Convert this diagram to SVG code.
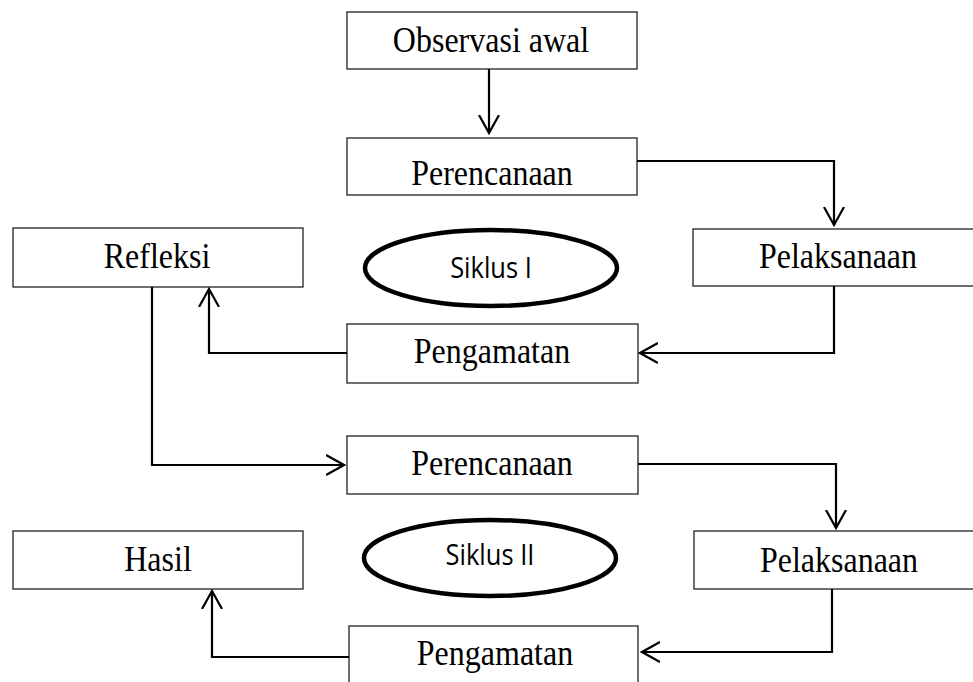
<svg xmlns="http://www.w3.org/2000/svg" width="973" height="682" viewBox="0 0 973 682">
  <style>
    .box { fill: #ffffff; stroke: #222222; stroke-width: 1.3; }
    .lbl { font-family: "Liberation Serif", "Times New Roman", serif; font-size: 32px; fill: #000000; text-anchor: middle; }
    .cyc { fill: #ffffff; stroke: #000000; stroke-width: 4.5; }
    .cyclbl { font-family: "Open Sans", "Noto Sans", sans-serif; font-size: 25.5px; fill: #000000; text-anchor: middle; }
    .conn { fill: none; stroke: #000000; stroke-width: 2.2; marker-end: url(#arrow); }
  </style>
  <defs>
    <marker id="arrow" viewBox="0 0 20 22" refX="18" refY="11" markerWidth="20" markerHeight="22" markerUnits="userSpaceOnUse" orient="auto">
      <path d="M0,1 L18,11 L0,21" fill="none" stroke="#000000" stroke-width="2.2"/>
    </marker>
  </defs>
  <rect width="973" height="682" fill="#ffffff"/>

  <g id="observasi">
    <rect class="box" x="347" y="12" width="290" height="57"/>
    <text class="lbl" transform="translate(491,52) scale(1,1.12)">Observasi awal</text>
  </g>
  <g id="perencanaan1">
    <rect class="box" x="347" y="138" width="290" height="57"/>
    <text class="lbl" transform="translate(492,185) scale(1,1.12)">Perencanaan</text>
  </g>
  <g id="pelaksanaan1">
    <rect class="box" x="693" y="229" width="290" height="57"/>
    <text class="lbl" transform="translate(838,268) scale(1,1.12)">Pelaksanaan</text>
  </g>
  <g id="refleksi">
    <rect class="box" x="13" y="228" width="290" height="59"/>
    <text class="lbl" transform="translate(157,268) scale(1,1.12)">Refleksi</text>
  </g>
  <g id="siklus1">
    <ellipse class="cyc" cx="491" cy="268" rx="126" ry="38"/>
    <text class="cyclbl" transform="translate(491,278) scale(1,1.15)">Siklus I</text>
  </g>
  <g id="pengamatan1">
    <rect class="box" x="347" y="324" width="291" height="59"/>
    <text class="lbl" transform="translate(492,363) scale(1,1.12)">Pengamatan</text>
  </g>
  <g id="perencanaan2">
    <rect class="box" x="347" y="436" width="291" height="58"/>
    <text class="lbl" transform="translate(492,475) scale(1,1.12)">Perencanaan</text>
  </g>
  <g id="pelaksanaan2">
    <rect class="box" x="694" y="531" width="290" height="58"/>
    <text class="lbl" transform="translate(839,572) scale(1,1.12)">Pelaksanaan</text>
  </g>
  <g id="hasil">
    <rect class="box" x="13" y="531" width="290" height="58"/>
    <text class="lbl" transform="translate(158,571) scale(1,1.12)">Hasil</text>
  </g>
  <g id="siklus2">
    <ellipse class="cyc" cx="490" cy="558" rx="126" ry="38"/>
    <text class="cyclbl" transform="translate(490,565) scale(1,1.15)">Siklus II</text>
  </g>
  <g id="pengamatan2">
    <rect class="box" x="349" y="626" width="289" height="70"/>
    <text class="lbl" transform="translate(495,665) scale(1,1.12)">Pengamatan</text>
  </g>

  <g id="connectors">
    <path class="conn" d="M489,69 L489,133"/>
    <path class="conn" d="M637,161 L834,161 L834,225"/>
    <path class="conn" d="M834,286 L834,353 L640,353"/>
    <path class="conn" d="M347,353 L209,353 L209,289"/>
    <path class="conn" d="M152,287 L152,465 L344,465"/>
    <path class="conn" d="M638,464 L836,464 L836,528"/>
    <path class="conn" d="M832,589 L832,652 L642,652"/>
    <path class="conn" d="M349,657 L212,657 L212,591"/>
  </g>
</svg>
